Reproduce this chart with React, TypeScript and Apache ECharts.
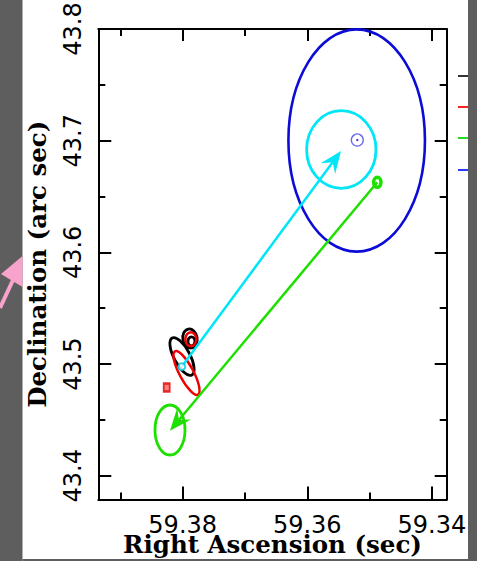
import React, { useEffect, useRef } from 'react';
import * as echarts from 'echarts';

// ---- texts ----
const xTitle = 'Right Ascension (sec)';
const yTitle = 'Declination (arc sec)';

// ---- axis ranges / steps ----
const raRange = [59.33762, 59.39355];
const decRange = [43.37878, 43.8];
const raStep = 0.02;
const decStep = 0.1;

// ---- error ellipses: [RA (sec), Dec (arcsec), semi-axis RA (sec), semi-axis Dec (arcsec), angle deg] ----
const blueEllipses = [[59.35207, 43.7002, 0.01096, 0.0995, 0]];
const cyanEllipses = [[59.35454, 43.69212, 0.00557, 0.03474, 0]];
const greenEllipses = [[59.38204, 43.44101, 0.00241, 0.02238, 0]];
const greenSmallEllipses = [[59.34876, 43.66276, 0.00058, 0.0045, 0]];
const blackEllipses = [
  [59.37883, 43.52292, 0.00115, 0.0086, 10],
  [59.3786, 43.52041, 0.00056, 0.00403, 0],
  [59.38011, 43.5068, 0.00128, 0.0188, 28],
];
const redEllipses = [
  [59.3787, 43.5222, 0.00088, 0.00627, 0],
  [59.37939, 43.49203, 0.00112, 0.02193, 28],
];

// ---- point markers: [RA, Dec] ----
const blueMarkers = [[59.35197, 43.7006]];
const cyanMarkers = [[59.38016, 43.49767]];
const redMarkers = [[59.38257, 43.47905]];

// ---- proper-motion arrows: [RA0, Dec0, RA1, Dec1] ----
const cyanArrows = [[59.38016, 43.49767, 59.35459, 43.6908]];
const greenArrows = [[59.34876, 43.66276, 59.38204, 43.44038]];

const ellipseSeries = (data: number[][], color: string, width: number) => ({
  type: 'custom',
  coordinateSystem: 'cartesian2d',
  silent: true,
  clip: false,
  data,
  renderItem: (_p: any, api: any) => {
    const c = api.coord([api.value(0), api.value(1)]);
    const s = api.size([api.value(2), api.value(3)]);
    return {
      type: 'ellipse',
      x: c[0],
      y: c[1],
      rotation: (api.value(4) * Math.PI) / 180,
      shape: { cx: 0, cy: 0, rx: s[0], ry: s[1] },
      style: { fill: 'none', stroke: color, lineWidth: width },
    };
  },
});

const arrowSeries = (data: number[][], color: string) => ({
  type: 'custom',
  coordinateSystem: 'cartesian2d',
  silent: true,
  clip: false,
  data,
  renderItem: (_p: any, api: any) => {
    const p0 = api.coord([api.value(0), api.value(1)]);
    const p1 = api.coord([api.value(2), api.value(3)]);
    const dx = p1[0] - p0[0];
    const dy = p1[1] - p0[1];
    const len = Math.hypot(dx, dy);
    const ux = dx / len;
    const uy = dy / len;
    const nx = -uy;
    const ny = ux;
    const L = 22;
    const W = 9;
    const N = 14;
    const bx = p1[0] - L * ux;
    const by = p1[1] - L * uy;
    return {
      type: 'group',
      children: [
        {
          type: 'line',
          shape: { x1: p0[0], y1: p0[1], x2: p1[0] - N * ux, y2: p1[1] - N * uy },
          style: { stroke: color, lineWidth: 2.5 },
        },
        {
          type: 'polygon',
          shape: {
            points: [
              [p1[0], p1[1]],
              [bx + W * nx, by + W * ny],
              [p1[0] - N * ux, p1[1] - N * uy],
              [bx - W * nx, by - W * ny],
            ],
          },
          style: { fill: color },
        },
      ],
    };
  },
});

const tickStyle = { color: '#000', width: 2 };
const axisLineStyle = { lineStyle: { color: '#000', width: 2 } };

export default function App() {
  const ref = useRef<HTMLDivElement>(null);
  useEffect(() => {
    if (!ref.current) return;
    const chart = echarts.init(ref.current, undefined, { renderer: 'svg' });
    const xBase = {
      type: 'value',
      min: raRange[0],
      max: raRange[1],
      inverse: true,
      minInterval: raStep,
      maxInterval: raStep,
      splitNumber: 3,
      axisLine: axisLineStyle,
      axisTick: { show: true, inside: true, length: 13, lineStyle: tickStyle },
      minorTick: { show: true, splitNumber: 2, length: 7, lineStyle: tickStyle },
      splitLine: { show: false },
      minorSplitLine: { show: false },
    };
    const yBase = {
      type: 'value',
      min: decRange[0],
      max: decRange[1],
      minInterval: decStep,
      maxInterval: decStep,
      splitNumber: 4,
      axisLine: axisLineStyle,
      axisTick: { show: true, inside: true, length: 13, lineStyle: tickStyle },
      minorTick: { show: true, splitNumber: 2, length: 7, lineStyle: tickStyle },
      splitLine: { show: false },
      minorSplitLine: { show: false },
    };
    chart.setOption({
      animation: false,
      backgroundColor: '#fff',
      grid: { left: 98.3, top: 29, width: 348.4, height: 470.5, outerBoundsMode: 'none' },
      xAxis: [
        {
          ...xBase,
          position: 'bottom',
          axisLabel: {
            show: true,
            margin: 16,
            color: '#000',
            fontFamily: 'DejaVu Sans',
            fontSize: 24,
            lineHeight: 18,
            showMinLabel: false,
            showMaxLabel: false,
            formatter: (v: number) => v.toFixed(2),
          },
          name: xTitle,
          nameLocation: 'middle',
          nameGap: 34.5,
          nameMoveOverlap: false,
          nameTextStyle: {
            fontFamily: 'DejaVu Serif',
            fontWeight: 'bold',
            fontSize: 24.5,
            lineHeight: 20,
            color: '#000',
          },
        },
        { ...xBase, position: 'top', axisTick: { ...xBase.axisTick, length: 12 }, axisLabel: { show: false } },
      ],
      yAxis: [
        {
          ...yBase,
          position: 'left',
          axisLabel: {
            show: true,
            rotate: 90,
            margin: 13,
            color: '#000',
            fontFamily: 'DejaVu Sans',
            fontSize: 24,
            showMinLabel: false,
            showMaxLabel: true,
            formatter: (v: number) => v.toFixed(1),
          },
          name: yTitle,
          nameLocation: 'middle',
          nameGap: 48,
          nameMoveOverlap: false,
          nameTextStyle: {
            fontFamily: 'DejaVu Serif',
            fontWeight: 'bold',
            fontSize: 24.5,
            color: '#000',
          },
        },
        { ...yBase, position: 'right', axisTick: { ...yBase.axisTick, length: 12 }, axisLabel: { show: false } },
      ],
      series: [
        ellipseSeries(blueEllipses, '#0c0cd6', 2.6),
        ellipseSeries(cyanEllipses, '#00e6f6', 2.8),
        ellipseSeries(greenEllipses, '#1ee000', 2.8),
        ellipseSeries(greenSmallEllipses, '#1ee000', 3.6),
        ellipseSeries(blackEllipses, '#000', 2.8),
        ellipseSeries(redEllipses, '#f00000', 2.5),
        arrowSeries(cyanArrows, '#00e6f6'),
        arrowSeries(greenArrows, '#1ee000'),
        {
          type: 'scatter',
          silent: true,
          data: blueMarkers,
          symbol: 'circle',
          symbolSize: 12,
          itemStyle: { color: 'rgba(0,0,0,0)', borderColor: '#4040f0', borderWidth: 1.3 },
        },
        {
          type: 'scatter',
          silent: true,
          data: blueMarkers,
          symbol: 'circle',
          symbolSize: 2.5,
          itemStyle: { color: '#2020c0' },
        },
        {
          type: 'scatter',
          silent: true,
          data: cyanMarkers,
          symbol: 'circle',
          symbolSize: 7,
          itemStyle: { color: '#fff', borderColor: '#00c8e0', borderWidth: 2 },
        },
        {
          type: 'scatter',
          silent: true,
          data: redMarkers,
          symbol: 'rect',
          symbolSize: [6, 8],
          itemStyle: { color: '#ff6060', borderColor: '#e00000', borderWidth: 2 },
        },
      ],
      graphic: [
        { type: 'rect', shape: { x: 0, y: 0, width: 22.5, height: 561 }, style: { fill: '#5e5e5e' }, silent: true },
        { type: 'rect', shape: { x: 468, y: 0, width: 9, height: 561 }, style: { fill: '#5e5e5e' }, silent: true },
        { type: 'rect', shape: { x: 22.5, y: 559, width: 446, height: 2 }, style: { fill: '#5e5e5e' }, silent: true },
        {
          type: 'polygon',
          shape: { points: [[22.5, 256], [1, 274], [22.5, 287]] },
          style: { fill: '#f7a3cb' },
          silent: true,
        },
        {
          type: 'line',
          shape: { x1: 13, y1: 280, x2: 0, y2: 308 },
          style: { stroke: '#f7a3cb', lineWidth: 4 },
          silent: true,
        },
        { type: 'line', shape: { x1: 458, y1: 76, x2: 468, y2: 76 }, style: { stroke: '#333', lineWidth: 2 }, silent: true },
        { type: 'line', shape: { x1: 458, y1: 107, x2: 468, y2: 107 }, style: { stroke: '#ff2020', lineWidth: 2 }, silent: true },
        { type: 'line', shape: { x1: 458, y1: 138, x2: 468, y2: 138 }, style: { stroke: '#22dd22', lineWidth: 2 }, silent: true },
        { type: 'line', shape: { x1: 458, y1: 170, x2: 468, y2: 170 }, style: { stroke: '#2a3cff', lineWidth: 2 }, silent: true },
      ],
    });
    return () => chart.dispose();
  }, []);
  return (
    <div
      ref={ref}
      style={{ position: 'absolute', left: 0, top: 0, width: 477, height: 561, background: '#fff' }}
    />
  );
}
